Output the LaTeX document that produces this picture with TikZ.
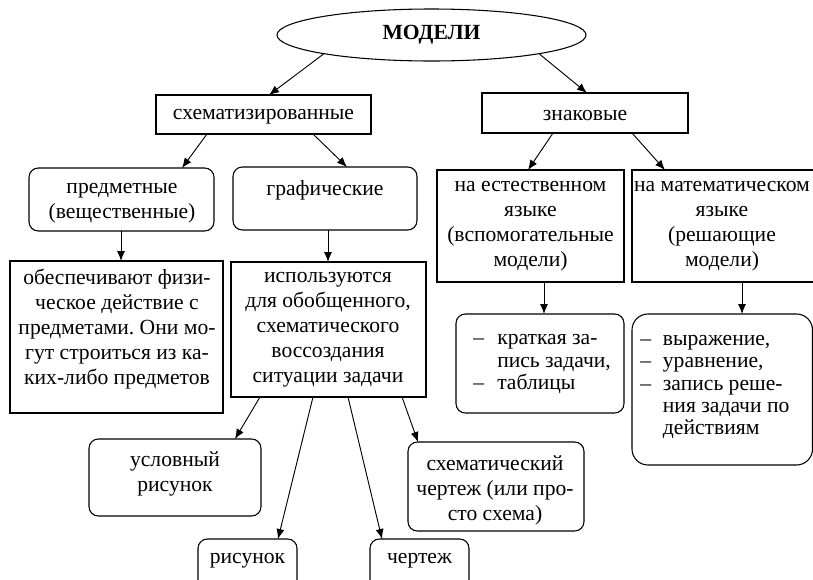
\documentclass[tikz,border=0pt]{standalone}
\usepackage{fontspec}
\setmainfont{Liberation Serif}
\frenchspacing
\usetikzlibrary{fit,shapes.geometric,arrows.meta,calc}
\begin{document}
\begin{tikzpicture}[x=0.75pt,y=-0.75pt,
  font=\fontsize{16.2}{18.75}\selectfont,
  box/.style={draw, line width=0.8pt, inner sep=0pt, outer sep=0pt},
  rbox/.style={box, rounded corners=7pt},
  txt/.style={align=center, inner sep=0pt},
  lst/.style={align=left, inner sep=0pt, anchor=west, font=\fontsize{16.2}{16.8}\selectfont},
  arr/.style={-{Latex[length=7.5pt,width=6pt]}, line width=0.7pt}]
\clip (0,0) rectangle (813,579);

% top
\node[draw, ellipse, line width=0.8pt, minimum width=231.75pt, minimum height=39pt, inner sep=0pt] (mod) at (431.5,35) {\bfseries МОДЕЛИ};

\node[box, fit={(156,95)(371,134)}] (sch) {};
\node[txt] (schT) at (263.5,117) {схематизированные};
\node[box, fit={(482,93)(688,133)}] (znak) {};
\node[txt] (znakT) at (585,116) {знаковые};

% second level
\node[rbox, fit={(29,168)(214,231)}] (pred) {};
\node[txt] (predT) at (122,203) {предметные\\(вещественные)};
\node[rbox, fit={(233,167)(417,230)}] (graf) {};
\node[txt] (grafT) at (325,190) {графические};
\node[box, fit={(437,170)(624,282)}] (nat) {};
\node[txt] (natT) at (530.5,226) {на естественном\\языке\\(вспомогательные\\модели)};
\node[box, fit={(632,170)(814,282)}] (mat) {};
\node[txt] (matT) at (722,226) {на математическом\\языке\\(решающие\\модели)};

% third level
\node[box, fit={(10,261)(223,413)}] (obe) {};
\node[txt] (obeT) at (117,329) {обеспечивают физи-\\ческое действие с\\предметами. Они мо-\\гут строиться из ка-\\ких-либо предметов};
\node[box, fit={(231,262)(426,397)}] (isp) {};
\node[txt] (ispT) at (328,330) {используются\\для обобщенного,\\схематического\\воссоздания\\ситуации задачи};
\node[rbox, fit={(456,314)(624,413)}] (krat) {};
\node[lst] (kratT) at (473,364) {\makebox[18pt][l]{–}краткая за-\\\hspace*{18pt}пись задачи,\\\makebox[18pt][l]{–}таблицы};
\node[box, rounded corners=12pt, fit={(632,314)(812.5,465)}] (vyr) {};
\node[lst] (vyrT) at (640,387) {\makebox[17pt][l]{–}выражение,\\\makebox[17pt][l]{–}уравнение,\\\makebox[17pt][l]{–}запись реше-\\\hspace*{17pt}ния задачи по\\\hspace*{17pt}действиям};

% fourth level
\node[rbox, fit={(89,439)(261,516)}] (usl) {};
\node[txt] (uslT) at (175,474) {условный\\рисунок};
\node[rbox, fit={(408,442)(584,531)}] (sxe) {};
\node[txt] (sxeT) at (495,490) {схематический\\чертеж (или про-\\сто схема)};
\node[rbox, fit={(198,539)(297,592)}] (ris) {};
\node[txt] (risT) at (247.5,561) {рисунок};
\node[rbox, fit={(370,539)(469,592)}] (cher) {};
\node[txt] (cherT) at (419.5,561) {чертеж};

% arrows
\draw[arr] (mod.190) -- ($(sch.north west)+(113,0)$);
\draw[arr] (mod.350) -- ($(znak.north west)+(105,0)$);
\draw[arr] ($(sch.south west)+(51,0)$) -- ($(pred.north west)+(153,0)$);
\draw[arr] ($(sch.south west)+(157,0)$) -- ($(graf.north west)+(114,0)$);
\draw[arr] ($(znak.south west)+(71,0)$) -- ($(nat.north west)+(91,0)$);
\draw[arr] ($(znak.south west)+(150,0)$) -- ($(mat.north west)+(33,0)$);
\draw[arr] ($(pred.south west)+(92,0)$) -- ($(obe.north west)+(111,0)$);
\draw[arr] ($(graf.south west)+(95,0)$) -- ($(isp.north west)+(97,0)$);
\draw[arr] ($(nat.south west)+(107,0)$) -- ($(krat.north west)+(88,0)$);
\draw[arr] ($(mat.south west)+(110,0)$) -- ($(vyr.north west)+(110,0)$);
\draw[arr] ($(isp.south west)+(29,0)$) -- ($(usl.north west)+(146,0)$);
\draw[arr] ($(isp.south west)+(82,0)$) -- ($(ris.north west)+(80,0)$);
\draw[arr] ($(isp.south west)+(117,0)$) -- ($(cher.north west)+(12,0)$);
\draw[arr] ($(isp.south west)+(171,0)$) -- ($(sxe.north west)+(10,0)$);
\end{tikzpicture}
\end{document}
